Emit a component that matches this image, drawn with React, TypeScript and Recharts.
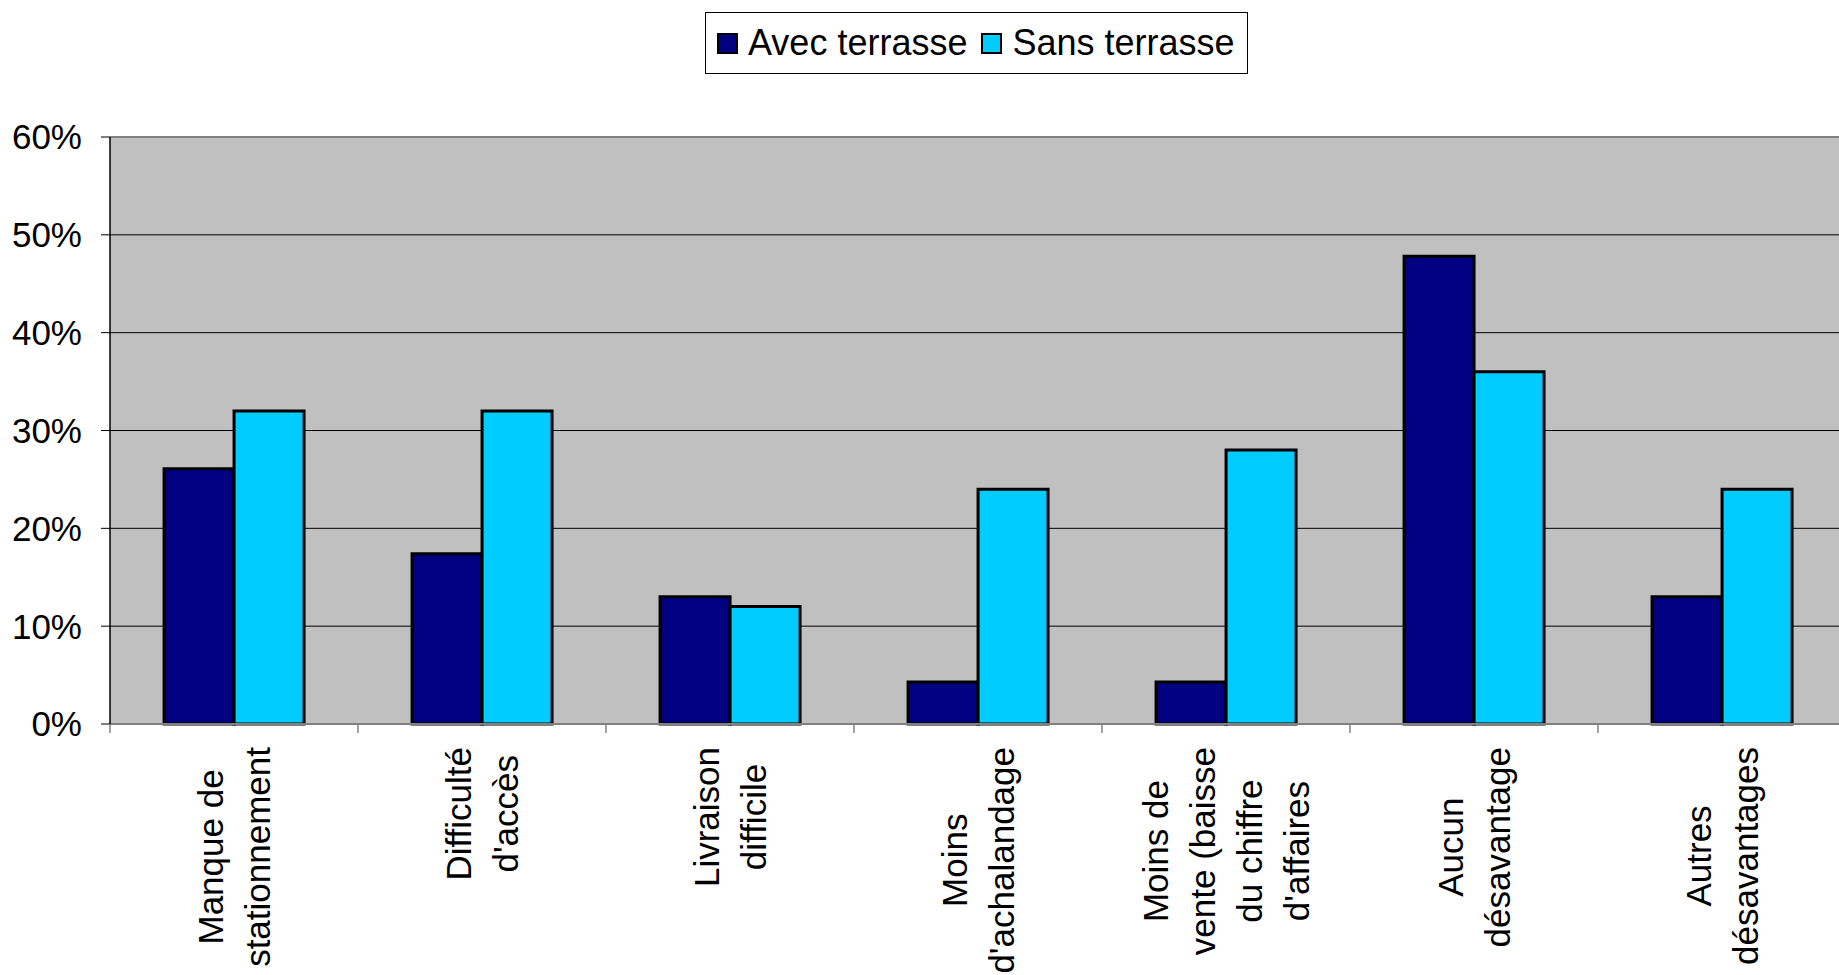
import { BarChart, Bar, XAxis, YAxis, CartesianGrid, Legend, ReferenceLine } from "recharts";

const categories = [
  "Manque de\nstationnement",
  "Difficulté\nd'accès",
  "Livraison\ndifficile",
  "Moins\nd'achalandage",
  "Moins de\nvente (baisse\ndu chiffre\nd'affaires",
  "Aucun\ndésavantage",
  "Autres\ndésavantages",
];
const avecTerrasse = [26.1, 17.4, 13.0, 4.3, 4.3, 47.8, 13.0];
const sansTerrasse = [32, 32, 12, 24, 28, 36, 24];
const yTicks = [0, 10, 20, 30, 40, 50, 60];

const data = categories.map((name, i) => ({ name, avec: avecTerrasse[i], sans: sansTerrasse[i] }));

const FONT = '"Liberation Sans", Arial, sans-serif';
const FS = 35;
const LINE = 47;

let ctx: CanvasRenderingContext2D | null = null;
function textWidth(s: string) {
  if (!ctx && typeof document !== "undefined") ctx = document.createElement("canvas").getContext("2d");
  if (!ctx) return s.length * FS * 0.5;
  ctx.font = `${FS}px "Liberation Sans"`;
  return ctx.measureText(s).width;
}

function CategoryTick(props: any) {
  const { x, y, payload, index } = props;
  const band = props.width && props.visibleTicksCount ? props.width / props.visibleTicksCount : 248;
  const lines = String(payload.value).split("\n");
  const maxW = Math.max(...lines.map(textWidth));
  const n = lines.length;
  return (
    <g>
      <line x1={x - band / 2} x2={x - band / 2} y1={y} y2={y + 9} stroke="#808080" strokeWidth={1.5} />
      {index === categories.length - 1 && (
        <line x1={x + band / 2} x2={x + band / 2} y1={y} y2={y + 9} stroke="#808080" strokeWidth={1.5} />
      )}
      <g transform={`translate(${x},${y + 23}) rotate(-90)`}>
        {lines.map((l, i) => (
          <text
            key={i}
            x={-maxW / 2}
            y={(i - (n - 1) / 2) * LINE}
            dy="0.35em"
            textAnchor="middle"
            fill="#000"
            fontSize={FS}
            fontFamily={FONT}
          >
            {l}
          </text>
        ))}
      </g>
    </g>
  );
}

function LegendBox() {
  const item = (color: string, label: string, gap: number) => (
    <div style={{ display: "flex", alignItems: "center", marginRight: gap }}>
      <div style={{ width: 17, height: 17, background: color, border: "2px solid #000", marginRight: 10 }} />
      <span>{label}</span>
    </div>
  );
  return (
    <div
      style={{
        width: 543,
        height: 62,
        border: "1px solid #000",
        background: "#fff",
        display: "flex",
        alignItems: "center",
        paddingLeft: 11,
        boxSizing: "border-box",
        fontFamily: FONT,
        fontSize: 36,
        color: "#000",
        lineHeight: 1,
      }}
    >
      {item("#000080", "Avec terrasse", 14)}
      {item("#00CCFF", "Sans terrasse", 0)}
    </div>
  );
}

export default function App() {
  return (
    <div style={{ position: "absolute", left: 0, top: 0, width: 1839, height: 975, overflow: "hidden", background: "#fff" }}>
      <BarChart
        width={1850}
        height={975}
        data={data}
        margin={{ top: 137, right: 4, bottom: 0, left: 0 }}
        barCategoryGap="21.8%"
        barGap={0}
      >
        <CartesianGrid vertical={false} stroke="#000" fill="#C0C0C0" fillOpacity={1} />
        <ReferenceLine y={60} stroke="#808080" strokeWidth={2} />
        <XAxis
          dataKey="name"
          height={251}
          interval={0}
          tickSize={0}
          tickMargin={0}
          tickLine={false}
          axisLine={{ stroke: "#808080", strokeWidth: 2 }}
          tick={<CategoryTick />}
        />
        <YAxis
          width={110}
          domain={[0, 60]}
          ticks={yTicks}
          interval={0}
          tickSize={9}
          tickMargin={19}
          tickFormatter={(v: number) => `${v}%`}
          axisLine={{ stroke: "#000", strokeWidth: 1.5 }}
          tickLine={{ stroke: "#000" }}
          tick={{ fill: "#000", fontSize: FS, fontFamily: FONT }}
        />
        <Legend
          verticalAlign="middle"
          align="center"
          layout="horizontal"
          wrapperStyle={{ top: 12, left: 705, width: 543 }}
          content={() => <LegendBox />}
        />
        <Bar dataKey="avec" name="Avec terrasse" fill="#000080" stroke="#000" strokeWidth={3} isAnimationActive={false} />
        <Bar dataKey="sans" name="Sans terrasse" fill="#00CCFF" stroke="#000" strokeWidth={3} isAnimationActive={false} />
      </BarChart>
    </div>
  );
}
